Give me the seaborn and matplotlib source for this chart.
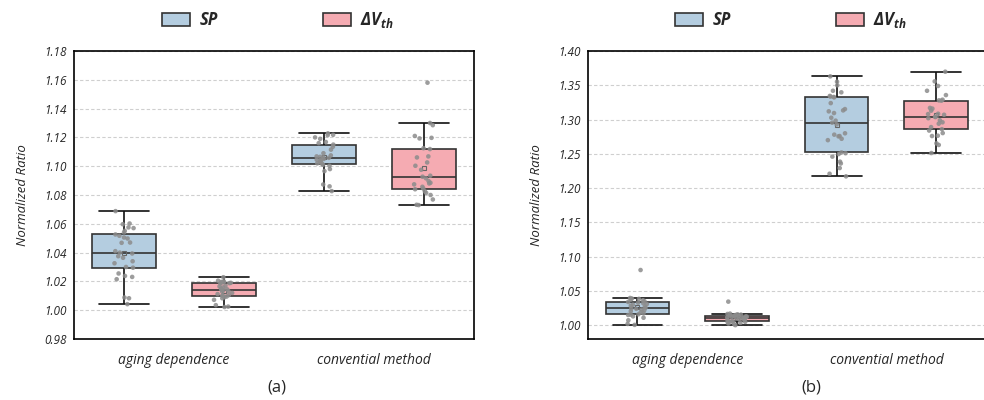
import numpy as np
import pandas as pd
import matplotlib
matplotlib.use("Agg")
import matplotlib.pyplot as plt
from matplotlib.ticker import FormatStrFormatter
import seaborn as sns

# --- values ---
groups = ["aging dependence", "convential method"]
metrics = ["SP", r"$\Delta V_{th}$"]

# panel (a)
a_sp_aging = [1.0688, 1.0602, 1.0597, 1.0575, 1.0570, 1.0551, 1.0540, 1.0526, 1.0517, 1.0505,
              1.0498, 1.0470, 1.0468, 1.0410, 1.0400, 1.0394, 1.0375, 1.0364, 1.0340, 1.0326,
              1.0300, 1.0295, 1.0255, 1.0238, 1.0231, 1.0215, 1.0088, 1.0083, 1.0042]
a_dv_aging = [1.0229, 1.0205, 1.0200, 1.0197, 1.0195, 1.0192, 1.0190, 1.0188, 1.0186, 1.0170,
              1.0165, 1.0158, 1.0150, 1.0145, 1.0142, 1.0139, 1.0133, 1.0128, 1.0120, 1.0112,
              1.0105, 1.0102, 1.0100, 1.0095, 1.0090, 1.0083, 1.0072, 1.0035, 1.0025, 1.0022]
a_sp_conv = [1.1228, 1.1218, 1.1215, 1.1200, 1.1190, 1.1168, 1.1160, 1.1150, 1.1135, 1.1115,
             1.1090, 1.1075, 1.1068, 1.1065, 1.1061, 1.1058, 1.1050, 1.1045, 1.1040, 1.1035,
             1.1028, 1.1020, 1.1015, 1.1010, 1.1003, 1.0980, 1.0966, 1.0873, 1.0860, 1.0827]
a_dv_conv = [1.1580, 1.1300, 1.1285, 1.1210, 1.1197, 1.1193, 1.1125, 1.1119, 1.1068, 1.1061,
             1.1026, 1.1003, 1.0975, 1.0934, 1.0927, 1.0916, 1.0897, 1.0885, 1.0880, 1.0874,
             1.0857, 1.0845, 1.0840, 1.0825, 1.0815, 1.0800, 1.0769, 1.0732, 1.0730]

# panel (b)
b_sp_aging = [1.0806, 1.0398, 1.0390, 1.0385, 1.0375, 1.0365, 1.0350, 1.0340, 1.0330, 1.0320,
              1.0310, 1.0300, 1.0285, 1.0270, 1.0255, 1.0245, 1.0240, 1.0230, 1.0220, 1.0205,
              1.0190, 1.0175, 1.0160, 1.0155, 1.0150, 1.0130, 1.0110, 1.0073, 1.0020, 1.0006]
b_dv_aging = [1.0345, 1.0170, 1.0165, 1.0160, 1.0155, 1.0150, 1.0145, 1.0140, 1.0136, 1.0130,
              1.0125, 1.0120, 1.0115, 1.0110, 1.0108, 1.0105, 1.0100, 1.0095, 1.0090, 1.0085,
              1.0080, 1.0062, 1.0052, 1.0055, 1.0050, 1.0045, 1.0035, 1.0025, 1.0015, 1.0002]
b_sp_conv = [1.3630, 1.3552, 1.3500, 1.3420, 1.3397, 1.3345, 1.3335, 1.3330, 1.3324, 1.3240,
             1.3153, 1.3134, 1.3120, 1.3095, 1.3027, 1.2984, 1.2955, 1.2930, 1.2800, 1.2780,
             1.2760, 1.2755, 1.2720, 1.2700, 1.2520, 1.2510, 1.2497, 1.2460, 1.2386, 1.2360,
             1.2293, 1.2210, 1.2172]
b_dv_conv = [1.3698, 1.3557, 1.3490, 1.3420, 1.3357, 1.3290, 1.3280, 1.3275, 1.3170, 1.3160,
             1.3130, 1.3085, 1.3080, 1.3070, 1.3037, 1.3040, 1.3020, 1.2990, 1.2960, 1.2940,
             1.2890, 1.2860, 1.2840, 1.2803, 1.2765, 1.2760, 1.2653, 1.2630, 1.2512]

yticks_a = [0.98, 1.00, 1.02, 1.04, 1.06, 1.08, 1.10, 1.12, 1.14, 1.16, 1.18]
yticks_b = [1.00, 1.05, 1.10, 1.15, 1.20, 1.25, 1.30, 1.35, 1.40]

box_colors = ["#b4cde0", "#f5abb2"]


def make_df(sp_aging, dv_aging, sp_conv, dv_conv):
    rows = []
    for grp, met, vals in [(groups[0], metrics[0], sp_aging), (groups[0], metrics[1], dv_aging),
                           (groups[1], metrics[0], sp_conv), (groups[1], metrics[1], dv_conv)]:
        for v in vals:
            rows.append((grp, met, v))
    return pd.DataFrame(rows, columns=["method", "metric", "ratio"])


sns.set_style("white")
plt.rcParams["font.family"] = "Open Sans"
plt.rcParams["font.style"] = "italic"
plt.rcParams["mathtext.fontset"] = "custom"
plt.rcParams["mathtext.rm"] = "Open Sans:bold:italic"
plt.rcParams["mathtext.it"] = "Open Sans:bold:italic"
plt.rcParams["mathtext.bf"] = "Open Sans:bold:italic"

np.random.seed(7)

fig = plt.figure(figsize=(9.84, 4.0), dpi=100)
ax_a = fig.add_axes([74 / 984, 61 / 400, 400 / 984, 288 / 400])
ax_b = fig.add_axes([587.6 / 984, 61 / 400, 398.4 / 984, 288 / 400])


def draw(ax, df, yticks, ylim):
    sns.boxplot(data=df, x="method", y="ratio", hue="metric", order=groups, hue_order=metrics,
                palette=box_colors, saturation=1, width=1.0, gap=0.36, showfliers=False,
                showmeans=True, linewidth=1.2, linecolor="#333333", capwidths=0.25,
                meanprops=dict(marker="s", markerfacecolor="none", markeredgecolor="#666666",
                               markersize=3.5, markeredgewidth=0.8),
                whiskerprops=dict(color="#111111"), capprops=dict(color="#111111"),
                ax=ax)
    n0 = len(ax.collections)
    sns.stripplot(data=df, x="method", y="ratio", hue="metric", order=groups, hue_order=metrics,
                  dodge=True, jitter=0.08, palette=["#8c8c8c", "#8c8c8c"], size=3.3,
                  alpha=0.85, linewidth=0, legend=False, zorder=3, ax=ax)
    # boxes sit at +/-0.25, strips come out at +/-0.2: push them out to match
    for coll in ax.collections[n0:]:
        off = coll.get_offsets().copy()
        cx = np.round(off[:, 0])
        off[:, 0] = cx + (off[:, 0] - cx) * 1.25
        coll.set_offsets(off)

    handles, labels = ax.get_legend_handles_labels()
    if ax.get_legend() is not None:
        ax.get_legend().remove()
    ax.legend(handles, labels, loc="center", bbox_to_anchor=(0.51, 1.106), ncol=2,
              frameon=False, handlelength=1.7, handleheight=0.8, columnspacing=6.3,
              handletextpad=0.55, prop=dict(weight="bold", style="italic", size=12))

    ax.set_xlim(-0.5, 1.5)
    ax.set_ylim(*ylim)
    ax.set_yticks(yticks)
    ax.yaxis.set_major_formatter(FormatStrFormatter("%.2f"))
    ax.yaxis.grid(True, linestyle=(0, (3, 2)), color="#cfcfcf", linewidth=0.8)
    ax.set_axisbelow(True)
    ax.tick_params(axis="y", length=0, pad=5, labelsize=8.5)
    ax.tick_params(axis="x", direction="in", length=5, width=1.0, pad=10, labelsize=10)
    ax.set_xlabel("")
    ax.set_ylabel("Normalized Ratio", fontsize=9.5)
    ax.yaxis.set_label_coords(-0.112, 0.5)
    for sp in ax.spines.values():
        sp.set_color("black")
        sp.set_linewidth(1.2)


draw(ax_a, make_df(a_sp_aging, a_dv_aging, a_sp_conv, a_dv_conv), yticks_a, (0.98, 1.18))
draw(ax_b, make_df(b_sp_aging, b_dv_aging, b_sp_conv, b_dv_conv), yticks_b, (0.98, 1.40))

fig.text(277 / 984, 1 - 388 / 400, "(a)", ha="center", va="center", fontsize=12, style="normal")
fig.text(811 / 984, 1 - 388 / 400, "(b)", ha="center", va="center", fontsize=12, style="normal")

fig.savefig("out.png", dpi=100)
plt.close(fig)
